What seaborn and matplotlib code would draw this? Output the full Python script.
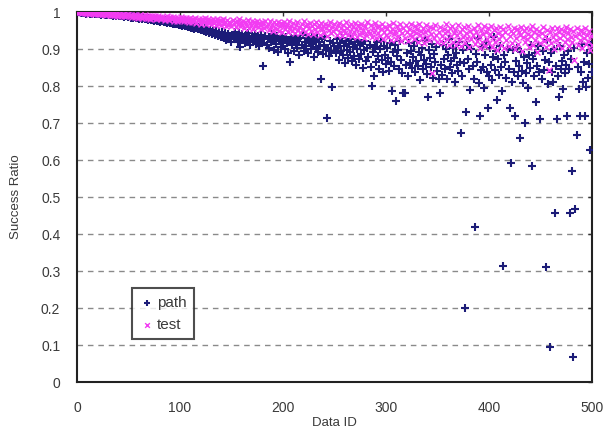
import numpy as np
import pandas as pd
import matplotlib
matplotlib.use("Agg")
import matplotlib.pyplot as plt
import seaborn as sns

# Success ratio per Data ID (x1000)
path_vals = [
    1000,999,1000,998,999,997,999,998,996,998,997,999,996,997,995,998,996,997,994,996,995,997,993,996,994,
    995,993,996,992,994,995,991,993,994,990,992,993,989,991,993,990,988,992,989,990,987,991,988,989,986,
    988,985,989,984,987,986,983,988,985,982,986,984,981,985,983,980,984,982,979,983,980,978,982,979,977,
    981,978,976,980,977,974,979,975,973,978,974,971,976,972,970,975,971,968,973,969,967,972,968,965,970,
    966,963,969,964,961,967,962,959,965,960,957,963,958,955,962,956,953,960,954,951,958,952,949,956,946,
    954,948,943,952,945,940,950,944,938,948,941,935,947,939,933,945,937,930,943,925,936,941,928,934,920,
    939,931,945,926,936,918,942,905,933,940,924,929,915,938,921,944,932,910,927,936,919,930,941,913,925,
    934,908,922,938,917,854,929,935,912,926,903,933,919,940,924,897,931,914,936,892,921,928,906,934,918,
    927,899,932,915,888,924,865,930,910,921,895,935,917,902,926,884,929,911,938,896,920,907,931,889,916,
    925,901,934,913,878,922,905,930,893,918,908,820,927,886,912,933,897,714,903,880,921,894,797,915,908,
    889,926,902,871,917,895,930,884,909,862,922,898,875,914,891,928,868,905,881,919,857,900,924,873,910,
    886,915,848,897,921,869,903,878,912,852,800,893,827,906,864,918,880,845,899,923,871,838,908,885,860,
    902,876,840,917,866,786,892,853,912,760,881,897,846,923,870,834,780,780,858,889,827,915,863,896,848,
    879,908,838,869,921,854,892,816,884,903,845,871,925,860,832,770,898,876,851,913,822,887,866,905,841,
    820,780,858,829,910,872,845,901,818,884,926,851,867,835,904,876,812,890,857,841,919,866,673,828,897,
    862,200,730,911,873,846,789,899,855,820,420,887,864,931,809,720,842,906,851,795,883,919,837,740,826,
    902,858,815,879,932,844,896,761,873,829,908,851,787,314,884,866,821,901,845,740,592,812,897,839,720,
    868,903,826,855,660,891,841,809,879,700,836,862,795,884,850,911,584,873,826,890,758,853,907,837,710,
    818,895,842,871,310,924,806,864,95,889,838,812,901,457,853,710,827,771,908,845,868,792,883,836,857,
    720,896,846,457,874,570,68,902,468,667,851,792,720,837,914,812,866,720,797,889,823,860,627,910,838,
]

test_vals = [
    1000,999,1000,1000,998,999,1000,997,999,998,1000,996,998,999,997,998,996,999,997,995,998,996,997,994,996,
    997,995,993,996,994,997,992,995,993,996,991,994,995,992,990,994,993,989,992,995,990,993,988,991,994,
    989,992,987,990,993,986,991,988,985,990,992,986,984,989,987,991,983,988,985,990,982,987,989,984,986,
    988,981,985,989,983,986,980,987,984,979,985,988,982,978,986,983,980,987,977,984,981,976,985,982,979,
    986,978,983,975,981,984,977,980,974,985,979,972,982,976,983,971,978,981,974,969,980,977,973,983,968,
    976,981,971,979,967,975,982,970,977,966,980,973,968,978,964,975,981,969,972,963,979,966,974,970,961,
    978,967,973,960,976,969,980,962,971,965,977,958,974,968,963,979,957,970,966,975,955,972,961,968,976,
    959,970,964,953,973,967,957,977,962,969,951,975,960,966,948,972,958,968,955,974,950,963,970,946,966,
    972,954,961,968,945,975,957,963,949,970,958,944,966,973,952,960,943,969,955,975,947,962,968,941,957,
    970,950,963,940,967,955,974,946,959,965,938,971,953,961,944,969,957,936,966,951,973,942,960,948,968,
    955,939,964,971,947,958,935,966,952,943,973,956,937,962,949,968,934,959,945,970,953,932,964,941,957,
    969,944,952,930,961,938,972,950,942,965,933,956,947,970,929,959,944,963,936,953,968,927,946,960,939,
    957,932,966,945,925,954,971,940,949,928,962,936,952,967,923,944,958,931,965,947,921,955,939,968,934,
    950,926,961,943,955,919,967,937,948,930,958,916,945,964,933,952,924,960,941,835,956,929,966,938,918,
    947,960,922,936,915,953,944,968,928,949,912,957,935,963,920,942,951,910,938,966,925,946,908,955,932,
    959,917,944,930,962,905,950,926,939,958,913,947,921,965,934,903,952,918,940,961,909,945,928,956,915,
    940,963,906,932,951,920,957,898,944,927,960,912,938,953,903,946,924,962,908,935,950,917,942,958,900,
    929,954,914,945,937,960,896,932,949,919,957,927,941,905,953,934,961,911,946,924,955,893,938,950,916,
    944,959,921,936,906,952,928,843,947,917,956,932,899,941,925,958,910,945,930,953,902,937,949,918,960,
    928,942,907,955,933,919,948,870,936,957,912,940,925,952,903,944,931,958,914,939,921,950,897,935,910,
]

data_ids = list(range(1, len(path_vals) + 1))
x_ticks = [0, 100, 200, 300, 400, 500]
y_ticks = [0, 0.1, 0.2, 0.3, 0.4, 0.5, 0.6, 0.7, 0.8, 0.9, 1]
y_tick_labels = ["0", "0.1", "0.2", "0.3", "0.4", "0.5", "0.6", "0.7", "0.8", "0.9", "1"]

df_path = pd.DataFrame({"id": data_ids, "ratio": np.array(path_vals) / 1000.0})
df_test = pd.DataFrame({"id": data_ids, "ratio": np.array(test_vals) / 1000.0})

sns.set_style("white")
plt.rcParams["font.family"] = ["Liberation Sans", "DejaVu Sans"]

fig = plt.figure(figsize=(6.16, 4.30), dpi=100)
ax = fig.add_axes([0.125, 0.1116, 0.836, 0.8604])

for yv in y_ticks[1:-1]:
    ax.axhline(yv, color="#8a8a8a", lw=1.0, ls=(0, (4, 3.5)), zorder=0)

NAVY = "#1c1c78"
MAG = "#f23cf2"
sns.scatterplot(data=df_path, x="id", y="ratio", marker="+", s=30, color=NAVY,
                linewidth=1.5, ax=ax, label="path", zorder=3)
sns.scatterplot(data=df_test, x="id", y="ratio", marker="x", s=18, color=MAG,
                linewidth=1.0, ax=ax, label="test", zorder=4)

ax.set_xlim(0, 500)
ax.set_ylim(0, 1)
ax.set_xticks(x_ticks)
ax.set_yticks(y_ticks)
ax.set_yticklabels(y_tick_labels)
ax.tick_params(direction="in", length=3, width=1, colors="#333333", labelsize=10,
               top=True, right=True, labelcolor="#3a3a3a")
ax.tick_params(axis="x", pad=14)
ax.tick_params(axis="y", pad=12)
ax.set_xlabel("Data ID", fontsize=9.5, color="#3a3a3a", labelpad=1)
ax.set_ylabel("Success Ratio", fontsize=9.5, color="#3a3a3a", labelpad=14)
for sp in ax.spines.values():
    sp.set_color("#222222")
    sp.set_linewidth(1.5)
    sp.set_visible(True)

leg = ax.legend(loc="lower left", bbox_to_anchor=(0.091, 0.095), frameon=True,
                fancybox=False, shadow=False, fontsize=11, handletextpad=0.15,
                borderpad=0.5, labelspacing=0.5, handlelength=1.0, markerscale=0.8)
leg.get_frame().set_edgecolor("#222222")
leg.get_frame().set_linewidth(1.5)
for t in leg.get_texts():
    t.set_color("#3a3a3a")

fig.savefig("out.png", dpi=100, facecolor="white")
